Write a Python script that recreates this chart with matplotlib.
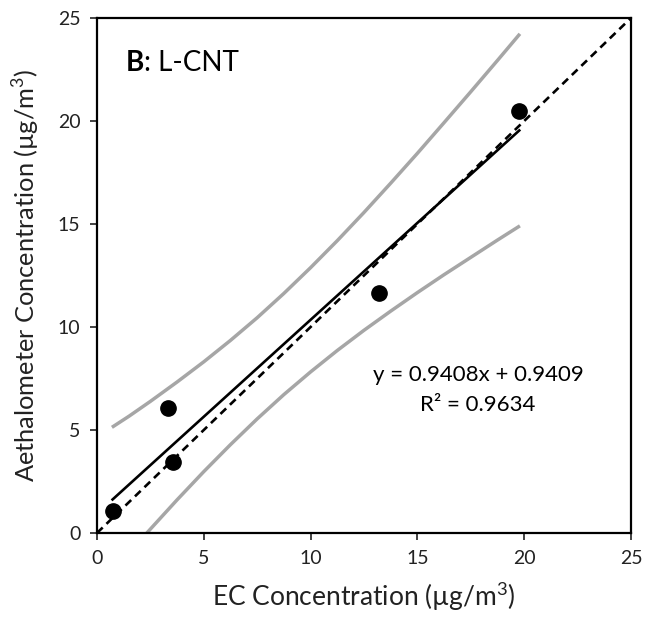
import numpy as np
import matplotlib
matplotlib.use('Agg')
import matplotlib.pyplot as plt

plt.rcParams['font.family'] = ['Lato', 'DejaVu Sans']
plt.rcParams['mathtext.fontset'] = 'custom'
plt.rcParams['mathtext.rm'] = 'Lato'
plt.rcParams['mathtext.bf'] = 'Lato:bold'

# measured points
ec = [0.73, 3.31, 3.57, 13.22, 19.77]
aeth = [1.08, 6.05, 3.43, 11.67, 20.5]

# fitted line
slope = 0.9408
intercept = 0.9409
fit_x = [0.73, 19.77]

# confidence band
band_x = [0.7, 1.5, 2.5, 3.75, 5.0, 6.25, 7.5, 8.75, 10.0, 11.25,
          12.5, 13.75, 15.0, 16.25, 17.5, 18.75, 19.8]
band_upper = [5.13, 5.67, 6.39, 7.33, 8.31, 9.35, 10.45, 11.63, 12.88, 14.19,
              15.56, 16.98, 18.43, 19.92, 21.42, 22.94, 24.23]
band_lower_x = [2.3, 2.5, 3.75, 5.0, 6.25, 7.5, 8.75, 10.0, 11.25,
                12.5, 13.75, 15.0, 16.25, 17.5, 18.75, 19.8]
band_lower = [-0.04, 0.19, 1.61, 2.98, 4.29, 5.54, 6.72, 7.82, 8.86,
              9.84, 10.77, 11.67, 12.54, 13.38, 14.22, 14.91]

one_to_one = [0, 25]
ticks = [0, 5, 10, 15, 20, 25]

fig = plt.figure(figsize=(6.57, 6.2), dpi=100)
ax = fig.add_axes([0.1476, 0.1403, 0.8128, 0.8307])

ax.plot(band_x, band_upper, color='#a6a6a6', lw=2.5, solid_capstyle='butt')
ax.plot(band_lower_x, band_lower, color='#a6a6a6', lw=2.5, solid_capstyle='butt')
ax.plot(one_to_one, one_to_one, color='black', lw=1.9, ls=(0, (3, 2)))
fx = np.array(fit_x)
ax.plot(fx, slope * fx + intercept, color='black', lw=1.9)
ax.plot(ec, aeth, 'o', color='black', ms=11, zorder=5)

ax.set_xlim(0, 25)
ax.set_ylim(0, 25)
ax.set_xticks(ticks)
ax.set_yticks(ticks)
ax.tick_params(direction='out', length=5, width=1.2, labelsize=14, pad=7, colors='#222222')
for s in ax.spines.values():
    s.set_linewidth(1.6)

ax.set_xlabel('EC Concentration (µg/m$^3$)', fontsize=19, labelpad=9, color='#222222')
ax.set_ylabel('Aethalometer Concentration (µg/m$^3$)', fontsize=18.3, labelpad=11, color='#222222')

tb = ax.text(1.35, 22.45, 'B', fontsize=20, fontweight='bold', va='baseline')
ax.annotate(': L-CNT', xy=(1, 0), xycoords=tb, va='bottom', fontsize=20)

ax.text(17.84, 7.67, 'y = 0.9408x + 0.9409', fontsize=16, ha='center', va='center')
ax.text(17.84, 6.21, 'R² = 0.9634', fontsize=16, ha='center', va='center')

fig.savefig('out.png', dpi=100)
